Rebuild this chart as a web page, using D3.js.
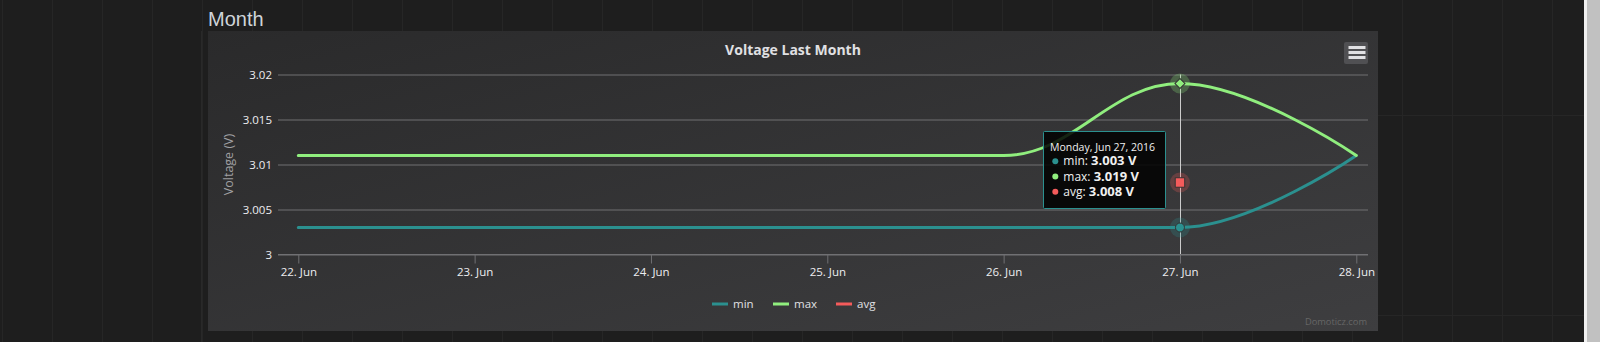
<!DOCTYPE html>
<html>
<head>
<meta charset="utf-8">
<script src="https://cdn.jsdelivr.net/npm/d3@7"></script>
<style>
  html, body { margin: 0; padding: 0; background: #1e1e1e; overflow: hidden; }
  svg { display: block; }
  text { font-family: "Open Sans", sans-serif; }
</style>
</head>
<body>
<div id="chart"></div>
<script>
// data
const days = ["2016-06-22", "2016-06-23", "2016-06-24", "2016-06-25", "2016-06-26", "2016-06-27", "2016-06-28"];
const minValues = [3.003, 3.003, 3.003, 3.003, 3.003, 3.003, 3.011];
const maxValues = [3.011, 3.011, 3.011, 3.011, 3.011, 3.019, 3.011];
const avgValues = [null, null, null, null, null, 3.008, null];
const yTicks = [3, 3.005, 3.01, 3.015, 3.02];
const seriesNames = ["min", "max", "avg"];
const seriesColors = ["#2b908f", "#90ee7e", "#f45b5b"];
const seriesSymbols = ["circle", "diamond", "square"];
const hoverIndex = 5; // tooltip on 27 Jun

const W = 1600, H = 342;
const box = {x: 208, y: 31, w: 1170, h: 300};
const plot = {left: 278, right: 1368, top: 74.5, bottom: 254.5};

const parse = d3.timeParse("%Y-%m-%d");
const dates = days.map(parse);

const svg = d3.select('#chart').append('svg')
    .attr('width', W)
    .attr('height', H);

const defs = svg.append('defs');
const grad = defs.append('linearGradient')
    .attr('id', 'bg')
    .attr('x1', 0).attr('y1', 0).attr('x2', 1).attr('y2', 1);
grad.append('stop').attr('offset', 0).attr('stop-color', '#2a2a2b');
grad.append('stop').attr('offset', 1).attr('stop-color', '#3e3e40');

// page background (brushed tiles)
svg.append('rect').attr('width', W).attr('height', H).attr('fill', '#1e1e1e');
const tiles = svg.append('g').attr('stroke', '#262626').attr('stroke-width', 1);
d3.range(2, 1585, 50).forEach(x => {
    tiles.append('line').attr('x1', x + 0.5).attr('x2', x + 0.5).attr('y1', 0).attr('y2', H);
});
[115.5, 315.5].forEach(y => {
    tiles.append('line').attr('x1', 1378).attr('x2', 1585).attr('y1', y).attr('y2', y);
});
tiles.append('line').attr('x1', 201.5).attr('x2', 201.5).attr('y1', 31).attr('y2', H).attr('stroke', '#292929');

// scrollbar
svg.append('rect').attr('x', 1584).attr('y', 0).attr('width', 16).attr('height', H).attr('fill', '#f1f1f1');
svg.append('rect').attr('x', 1587).attr('y', 0).attr('width', 13).attr('height', H).attr('fill', '#c1c1c1');

// page heading
svg.append('text')
    .attr('x', 208).attr('y', 26)
    .style('font-family', '"Liberation Sans", Arial, sans-serif')
    .style('font-size', '20px')
    .attr('fill', '#cfd4d9')
    .text('Month');

// chart container
svg.append('rect')
    .attr('x', box.x).attr('y', box.y)
    .attr('width', box.w).attr('height', box.h)
    .attr('fill', 'url(#bg)');

// title
svg.append('text')
    .attr('x', box.x + box.w / 2).attr('y', 55)
    .attr('text-anchor', 'middle')
    .style('font-size', '14px')
    .style('font-weight', 'bold')
    .attr('fill', '#E0E0E3')
    .text('Voltage Last Month');

// export menu button
svg.append('rect')
    .attr('x', 1344).attr('y', 42).attr('width', 24).attr('height', 22)
    .attr('rx', 2).attr('fill', '#505053');
[47.5, 52.5, 57.5].forEach(y => {
    svg.append('line')
        .attr('x1', 1348.5).attr('x2', 1365.5)
        .attr('y1', y).attr('y2', y)
        .attr('stroke', '#E0E0E3').attr('stroke-width', 3);
});

// scales
const x = d3.scaleTime()
    .domain([dates[0], dates[dates.length - 1]])
    .range([298.3, 1356.3]);
const y = d3.scaleLinear()
    .domain([3, 3.02])
    .range([plot.bottom, plot.top]);

// y grid + labels
const yAxis = svg.append('g')
    .attr('transform', `translate(${plot.left},0)`)
    .call(d3.axisLeft(y)
        .tickValues(yTicks)
        .tickSize(-(plot.right - plot.left))
        .tickPadding(6)
        .tickFormat(d => String(+d.toFixed(3))));
yAxis.select('.domain').remove();
yAxis.selectAll('line').attr('stroke', '#707073');
yAxis.selectAll('text')
    .attr('fill', '#EDEDF0')
    .style('font-size', '11.5px')
    .style('font-family', '"Open Sans", sans-serif');

svg.append('text')
    .attr('transform', `translate(228,${(plot.top + plot.bottom) / 2}) rotate(-90)`)
    .attr('text-anchor', 'middle')
    .attr('dominant-baseline', 'central')
    .style('font-size', '12.5px')
    .attr('fill', '#A0A0A3')
    .text('Voltage (V)');

// crosshair
svg.append('line')
    .attr('x1', Math.round(x(dates[hoverIndex])) + 0.5)
    .attr('x2', Math.round(x(dates[hoverIndex])) + 0.5)
    .attr('y1', plot.top).attr('y2', plot.bottom)
    .attr('stroke', '#cccccc').attr('stroke-width', 1);

// x axis
const xAxis = svg.append('g')
    .attr('transform', `translate(0,${plot.bottom})`)
    .call(d3.axisBottom(x)
        .tickValues(dates)
        .tickSizeInner(9)
        .tickSizeOuter(0)
        .tickPadding(4)
        .tickFormat(d3.timeFormat("%d. %b")));
xAxis.select('.domain').remove();
xAxis.selectAll('line').attr('stroke', '#707073');
xAxis.selectAll('text')
    .attr('fill', '#EDEDF0')
    .style('font-size', '11.5px')
    .style('font-family', '"Open Sans", sans-serif');
svg.append('line')
    .attr('x1', plot.left).attr('x2', plot.right)
    .attr('y1', plot.bottom).attr('y2', plot.bottom)
    .attr('stroke', '#707073');

// Highcharts-like spline through the points
function splinePath(pts) {
    const n = pts.length;
    const cont = pts.map((p, i) => {
        if (i === 0 || i === n - 1) return null;
        const last = pts[i - 1], next = pts[i + 1];
        let lx = (1.5 * p[0] + last[0]) / 2.5, ly = (1.5 * p[1] + last[1]) / 2.5;
        let rx = (1.5 * p[0] + next[0]) / 2.5, ry = (1.5 * p[1] + next[1]) / 2.5;
        if (rx !== lx) {
            const corr = ((ry - ly) * (rx - p[0])) / (rx - lx) + p[1] - ry;
            ly += corr; ry += corr;
        }
        if (ly > Math.max(last[1], p[1])) { ly = Math.max(last[1], p[1]); ry = 2 * p[1] - ly; }
        else if (ly < Math.min(last[1], p[1])) { ly = Math.min(last[1], p[1]); ry = 2 * p[1] - ly; }
        if (ry > Math.max(next[1], p[1])) { ry = Math.max(next[1], p[1]); ly = 2 * p[1] - ry; }
        else if (ry < Math.min(next[1], p[1])) { ry = Math.min(next[1], p[1]); ly = 2 * p[1] - ry; }
        return {lx, ly, rx, ry};
    });
    const path = d3.path();
    path.moveTo(pts[0][0], pts[0][1]);
    for (let i = 1; i < n; i++) {
        const a = cont[i - 1], b = cont[i];
        path.bezierCurveTo(
            a ? a.rx : pts[i - 1][0], a ? a.ry : pts[i - 1][1],
            b ? b.lx : pts[i][0], b ? b.ly : pts[i][1],
            pts[i][0], pts[i][1]);
    }
    return path.toString();
}

const allValues = [minValues, maxValues, avgValues];
const series = svg.append('g');
allValues.forEach((vals, s) => {
    const pts = vals.map((v, i) => v == null ? null : [x(dates[i]), y(v)]).filter(p => p);
    if (pts.length < 2) return;
    series.append('path')
        .attr('d', splinePath(pts))
        .attr('fill', 'none')
        .attr('stroke', seriesColors[s])
        .attr('stroke-width', 3)
        .attr('stroke-linejoin', 'round')
        .attr('stroke-linecap', 'round');
});

// hover markers with halo (diamond = rotated square)
const symbolType = {circle: d3.symbolCircle, diamond: d3.symbolSquare, square: d3.symbolSquare};
const symbolSize = {circle: Math.PI * 4.5 * 4.5, diamond: 50, square: 90};
const symbolRotate = {circle: 0, diamond: 45, square: 0};
allValues.forEach((vals, s) => {
    const v = vals[hoverIndex];
    if (v == null) return;
    const cx = x(dates[hoverIndex]), cy = y(v);
    const sym = seriesSymbols[s];
    svg.append('circle')
        .attr('cx', cx).attr('cy', cy).attr('r', 10)
        .attr('fill', seriesColors[s]).attr('fill-opacity', 0.25);
    svg.append('path')
        .attr('transform', `translate(${cx},${cy}) rotate(${symbolRotate[sym]})`)
        .attr('d', d3.symbol(symbolType[sym], symbolSize[sym])())
        .attr('fill', seriesColors[s])
        .attr('stroke', '#333').attr('stroke-width', 1);
});

// legend
const legendX = [712, 773, 836];
seriesNames.forEach((name, s) => {
    svg.append('line')
        .attr('x1', legendX[s]).attr('x2', legendX[s] + 16)
        .attr('y1', 304).attr('y2', 304)
        .attr('stroke', seriesColors[s]).attr('stroke-width', 3);
    svg.append('text')
        .attr('x', legendX[s] + 21).attr('y', 308)
        .style('font-size', '11.5px')
        .attr('fill', '#E0E0E3')
        .text(name);
});

// credits
svg.append('text')
    .attr('x', 1367).attr('y', 325)
    .attr('text-anchor', 'end')
    .style('font-size', '9.3px')
    .attr('fill', '#666')
    .text('Domoticz.com');

// tooltip
const tip = svg.append('g').attr('transform', 'translate(1043,131)');
tip.append('rect')
    .attr('x', 0.5).attr('y', 0.5).attr('width', 122).attr('height', 77)
    .attr('rx', 1)
    .attr('fill', 'rgba(0,0,0,0.85)')
    .attr('stroke', seriesColors[0]).attr('stroke-width', 1);
tip.append('text')
    .attr('x', 7).attr('y', 19.7)
    .style('font-size', '10.5px')
    .attr('fill', '#F0F0F0')
    .text(d3.timeFormat("%A, %b %d, %Y")(dates[hoverIndex]));
allValues.forEach((vals, s) => {
    const by = 34.3 + s * 15.2;
    tip.append('circle')
        .attr('cx', 12.3).attr('cy', by - 4).attr('r', 3)
        .attr('fill', seriesColors[s]);
    const t = tip.append('text')
        .attr('x', 20.3).attr('y', by)
        .style('font-size', '12px')
        .attr('fill', '#F0F0F0');
    t.append('tspan').text(seriesNames[s] + ': ');
    t.append('tspan')
        .style('font-weight', 'bold')
        .style('font-size', '13px')
        .text(vals[hoverIndex].toFixed(3) + ' V');
});
</script>
</body>
</html>
